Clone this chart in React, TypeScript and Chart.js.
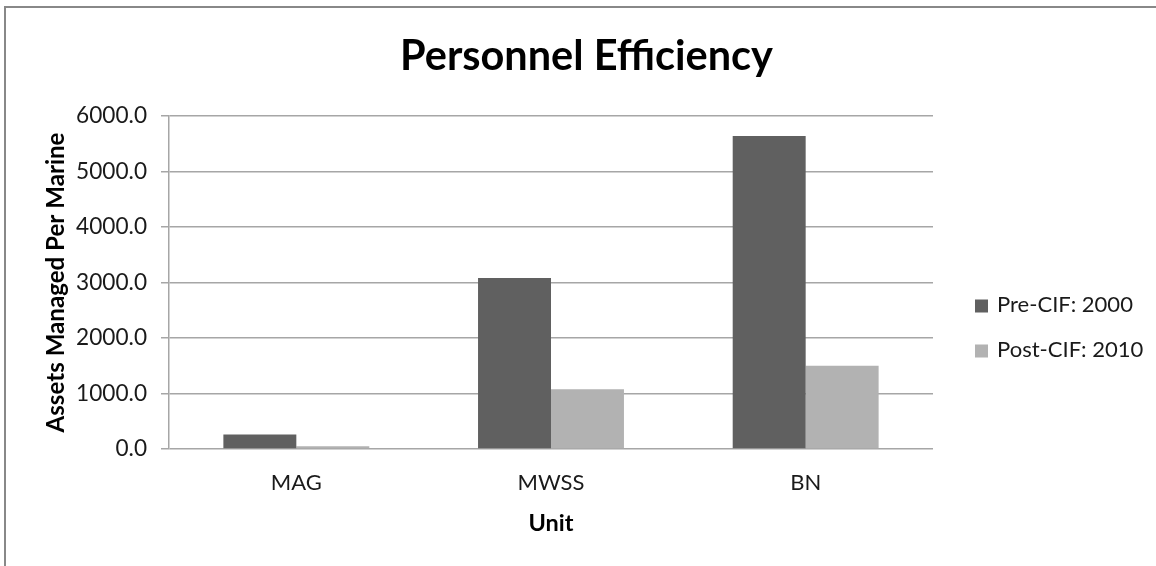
import React, { useEffect, useRef } from "react";
import { Chart, registerables } from "chart.js";

Chart.register(...registerables);

// ---- data ----
const categories = ["MAG", "MWSS", "BN"];
const preCIF2000 = [262, 3080, 5640];
const postCIF2010 = [50, 1075, 1500];
const seriesLabels = ["Pre-CIF: 2000", "Post-CIF: 2010"];
const seriesColors = ["#606060", "#b2b2b2"];
const yMin = 0;
const yMax = 6000;
const yStep = 1000;
const chartTitle = "Personnel Efficiency";
const xAxisTitle = "Unit";
const yAxisTitle = "Assets Managed Per Marine";

const FONT = "Lato, 'Open Sans', sans-serif";

function fitSize(text: string, weight: string, target: number): number {
  const c = document.createElement("canvas").getContext("2d")!;
  c.font = `${weight} 100px ${FONT}`;
  const w = c.measureText(text).width;
  return (target / w) * 100;
}

export default function App() {
  const ref = useRef<HTMLCanvasElement>(null);

  useEffect(() => {
    document.body.style.margin = "0";
    const titleSize = fitSize(chartTitle, "bold", 373);
    const yTickSize = fitSize("6000.0", "normal", 71);
    const xTickSize = fitSize("MAG", "normal", 51);
    const xTitleSize = fitSize(xAxisTitle, "bold", 45);
    const yTitleSize = fitSize(yAxisTitle, "bold", 300);
    const legendSize = fitSize(seriesLabels[0], "normal", 136);

    const yTitleLH = yTitleSize * 1.2;
    const xTitleLH = xTitleSize * 1.2;
    const xTickLH = xTickSize * 1.2;

    const overlay = {
      id: "overlay",
      afterDraw(chart: any) {
        const ctx = chart.ctx;
        ctx.save();
        // title
        ctx.fillStyle = "#000";
        ctx.font = `bold ${titleSize}px ${FONT}`;
        ctx.textAlign = "center";
        ctx.textBaseline = "alphabetic";
        ctx.fillText(chartTitle, 586.5, 69.5);
        // legend
        ctx.font = `normal ${legendSize}px ${FONT}`;
        ctx.textAlign = "left";
        chart.data.datasets.forEach((ds: any, i: number) => {
          const base = 312 + i * 45;
          ctx.fillStyle = ds.backgroundColor;
          ctx.fillRect(975, base - 12.5, 13, 13);
          ctx.fillStyle = "#1a1a1a";
          ctx.fillText(ds.label, 997, base);
        });
        ctx.restore();
      },
    };

    const chart = new Chart(ref.current!, {
      type: "bar",
      data: {
        labels: categories,
        datasets: [
          {
            label: seriesLabels[0],
            data: preCIF2000,
            backgroundColor: seriesColors[0],
            categoryPercentage: 0.573,
            barPercentage: 1,
          },
          {
            label: seriesLabels[1],
            data: postCIF2010,
            backgroundColor: seriesColors[1],
            categoryPercentage: 0.573,
            barPercentage: 1,
          },
        ],
      },
      options: {
        responsive: false,
        animation: false,
        layout: { padding: { left: 0, right: 223, top: 116, bottom: 0 } },
        plugins: {
          legend: { display: false },
          title: { display: false },
          tooltip: { enabled: false },
        },
        scales: {
          x: {
            grid: { display: false, drawTicks: false },
            border: { display: false },
            ticks: {
              color: "#1a1a1a",
              font: { family: FONT, size: xTickSize },
              padding: 34 - xTickLH / 2,
              maxRotation: 0,
            },
            title: {
              display: true,
              text: xAxisTitle,
              color: "#000",
              font: { family: FONT, size: xTitleSize, weight: "bold" },
              padding: { top: 0, bottom: 43 - xTitleLH / 2 },
            },
            afterFit(scale: any) {
              scale.height = 117;
            },
          },
          y: {
            min: yMin,
            max: yMax,
            ticks: {
              stepSize: yStep,
              color: "#1a1a1a",
              font: { family: FONT, size: yTickSize },
              padding: 14,
              callback: (v: any) => Number(v).toFixed(1),
            },
            grid: { color: "#a6a6a6", lineWidth: 1.5, tickLength: 8, drawTicks: true },
            border: { display: true, color: "#a6a6a6", width: 1.5 },
            title: {
              display: true,
              text: yAxisTitle,
              color: "#000",
              font: { family: FONT, size: yTitleSize, weight: "bold" },
              padding: { top: 56 - yTitleLH / 2, bottom: 0 },
            },
            afterFit(scale: any) {
              scale.width = 169;
            },
          },
        },
      },
      plugins: [overlay],
    } as any);

    return () => chart.destroy();
  }, []);

  return (
    <div style={{ position: "relative", width: 1156, height: 566, overflow: "hidden", background: "#fff" }}>
      <div
        style={{
          position: "absolute",
          left: 4,
          top: 6,
          right: -10,
          bottom: -10,
          borderLeft: "2px solid #888",
          borderTop: "2px solid #888",
        }}
      />
      <canvas
        ref={ref}
        width={1156}
        height={566}
        style={{ position: "absolute", left: 0, top: 0, width: 1156, height: 566 }}
      />
    </div>
  );
}
